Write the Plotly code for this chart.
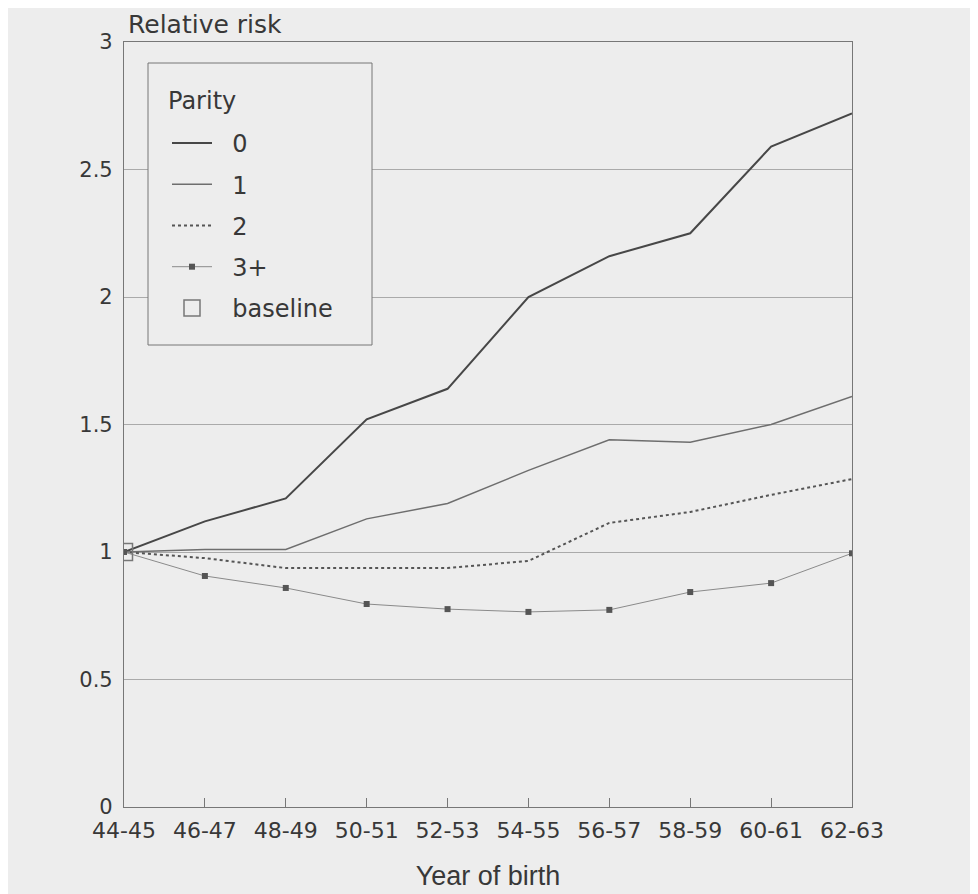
import plotly.graph_objects as go

categories = ['44-45', '46-47', '48-49', '50-51', '52-53', '54-55', '56-57', '58-59', '60-61', '62-63']
parity0 = [1.00, 1.12, 1.21, 1.52, 1.64, 2.00, 2.16, 2.25, 2.59, 2.72]
parity1 = [1.00, 1.01, 1.01, 1.13, 1.19, 1.32, 1.44, 1.43, 1.50, 1.61]
parity2 = [1.00, 0.976, 0.937, 0.937, 0.937, 0.965, 1.114, 1.157, 1.224, 1.286]
parity3 = [1.00, 0.906, 0.859, 0.796, 0.776, 0.765, 0.773, 0.843, 0.878, 0.995]
baseline_x = ['44-45']
baseline_y = [1.00]
y_ticks = [0, 0.5, 1, 1.5, 2, 2.5, 3]
y_tick_text = ['0', '0.5', '1', '1.5', '2', '2.5', '3']

FONT = 'DejaVu Sans'
TXT = '#383838'
BG = '#ededed'
PAD = '\u00a0\u00a0'

# page offset of 8px (browser body margin) is compensated in the layout size
W, H = 970, 886
ML, MT, MR, MB = 116, 34, 126, 87
PW, PH = W - ML - MR, H - MT - MB


def px(xr):  # reference page x -> paper fraction
    return (xr - 8 - ML) / PW


def py(yr):  # reference page y -> paper fraction
    return 1 - (yr - 8 - MT) / PH


fig = go.Figure()
fig.add_trace(go.Scatter(x=categories, y=parity0, name=PAD + '0', mode='lines',
                         line=dict(color='#474747', width=2), legendgroup='a'))
fig.add_trace(go.Scatter(x=categories, y=parity1, name=PAD + '1', mode='lines',
                         line=dict(color='#6e6e6e', width=1.5), legendgroup='b'))
fig.add_trace(go.Scatter(x=categories, y=parity2, name=PAD + '2', mode='lines',
                         line=dict(color='#555555', width=2, dash='dot'), legendgroup='c'))
fig.add_trace(go.Scatter(x=categories, y=parity3, name=PAD + '3+', mode='lines+markers',
                         line=dict(color='#8a8a8a', width=1),
                         marker=dict(symbol='square', size=6, color='#555555'),
                         legendgroup='d'))
fig.add_trace(go.Scatter(x=baseline_x, y=baseline_y, name=PAD + 'baseline', mode='markers',
                         marker=dict(symbol='square-open', size=17, color='#777777',
                                     line=dict(width=1.5)),
                         legendgroup='e'))

fig.update_layout(
    width=W, height=H,
    margin=dict(l=ML, r=MR, t=MT, b=MB, autoexpand=False),
    paper_bgcolor=BG, plot_bgcolor=BG,
    font=dict(family=FONT, color=TXT, size=20),
    showlegend=True,
    legend=dict(
        x=px(167), y=py(121), xanchor='left', yanchor='top',
        bgcolor='rgba(0,0,0,0)', borderwidth=0,
        font=dict(family=FONT, size=24, color=TXT),
        tracegroupgap=7, itemwidth=40,
    ),
    shapes=[dict(type='rect', xref='paper', yref='paper',
                 x0=px(148), x1=px(372), y0=py(345), y1=py(63),
                 line=dict(color='#777777', width=1), fillcolor=BG, layer='above')],
    annotations=[
        dict(text='Relative risk', xref='paper', yref='paper',
             x=px(126), y=py(24), xanchor='left', yanchor='middle',
             showarrow=False, font=dict(family=FONT, size=25, color=TXT)),
        dict(text='Parity', xref='paper', yref='paper',
             x=px(166), y=py(101), xanchor='left', yanchor='middle',
             showarrow=False, font=dict(family=FONT, size=24, color=TXT)),
    ],
)
fig.update_xaxes(
    type='category', range=[0, 9], automargin=False,
    showline=True, linecolor='#777777', linewidth=1.2, mirror=True,
    ticks='inside', ticklen=9, tickcolor='#777777',
    showgrid=False, zeroline=False,
    tickfont=dict(family=FONT, size=22, color=TXT), ticklabelstandoff=3,
    title=dict(text='Year of birth', font=dict(family='Liberation Sans', size=27, color=TXT), standoff=24),
)
fig.update_yaxes(
    range=[0, 3], tickvals=y_ticks, ticktext=y_tick_text, automargin=False,
    showline=True, linecolor='#777777', linewidth=1.2, mirror=True,
    ticks='', showgrid=True, gridcolor='#aaaaaa', gridwidth=1, zeroline=False,
    tickfont=dict(family=FONT, size=21, color=TXT), ticklabelstandoff=6,
)
fig.write_html('out.html')
